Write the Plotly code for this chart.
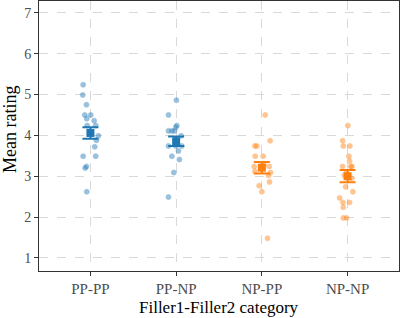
import plotly.graph_objects as go

categories = ["PP-PP", "PP-NP", "NP-PP", "NP-NP"]
colors = ["#1f77b4", "#1f77b4", "#ff7f0e", "#ff7f0e"]

pp_pp = [5.24, 4.99, 4.75, 4.50, 4.50, 4.41, 4.36, 4.24, 4.24, 3.99, 3.88, 3.72, 3.49, 3.49, 3.24, 3.20, 2.62]
pp_pp_jit = [-7.3, -7.7, -4, -5.7, 0.3, -3.7, 3.7, -3.3, 5.3, 8, 6, 4.3, -7.3, 5.3, -4, -5.3, -3.7]

pp_np = [4.86, 4.50, 4.11, 4.11, 4.11, 4.24, 4.20, 3.99, 3.74, 3.74, 3.74, 3.62, 3.49, 3.41, 3.09, 2.49]
pp_np_jit = [0.3, -7.7, -7.7, -4.3, -1.7, 0.7, -0.3, 5, -7.7, -0.3, 5.7, 2.3, -4.3, 3.3, -2.3, -7.7]

np_pp = [4.50, 3.87, 3.74, 3.74, 3.49, 3.49, 3.24, 3.24, 3.12, 3.09, 3.02, 2.86, 2.77, 2.62, 1.48, 3.20, 3.28]
np_pp_jit = [3.3, 8.3, -7, -5, -6.7, 1.3, -7.7, 7.3, -7, 8.7, 6.7, 7.7, -2.7, 0, 5.7, -1, 2]

np_np = [4.24, 3.87, 3.74, 3.74, 3.49, 3.37, 3.24, 3.24, 3.24, 3.09, 3.02, 2.95, 2.74, 2.62, 2.47, 2.36, 2.36, 2.24, 1.98, 1.98]
np_np_jit = [0.3, -5, -4.3, 2.3, 1.3, 2, -5, 3.3, 4.3, -1, -3.3, 4.3, -2, 5.3, -8, -4.7, 2, -4.3, -4.3, -1]

ratings = [pp_pp, pp_np, np_pp, np_np]
jitters = [pp_pp_jit, pp_np_jit, np_pp_jit, np_np_jit]

means = [4.06, 3.855, 3.21, 3.00]
se = [0.14, 0.115, 0.14, 0.15]

x_title = "Filler1-Filler2 category"
y_title = "Mean rating"

PX_PER_CAT = 86.0

fig = go.Figure()
for i, (vals, jit) in enumerate(zip(ratings, jitters)):
    c = colors[i]
    fig.add_trace(go.Scatter(
        x=[i + 1 + j / PX_PER_CAT for j in jit], y=vals, mode="markers",
        marker=dict(size=5, color=c, opacity=0.45, line=dict(width=0.8, color=c)),
        showlegend=False, hoverinfo="y"))

for i in range(4):
    fig.add_trace(go.Scatter(
        x=[i + 1], y=[means[i]], mode="markers",
        marker=dict(size=8, symbol="square", color=colors[i]),
        error_y=dict(type="data", array=[se[i]], visible=True, color=colors[i], thickness=2, width=8),
        showlegend=False))

font_family = "Liberation Serif, Times New Roman, serif"
W, H = 400, 318
L, R, T, B = 39, 1, 1, 47
fig.update_layout(
    width=W, height=H,
    margin=dict(l=L, r=R, t=T, b=B, autoexpand=False),
    paper_bgcolor="white", plot_bgcolor="white",
    font=dict(family=font_family, color="#4d4d4d", size=14),
    xaxis=dict(
        range=[0.4, 4.6], tickmode="array", tickvals=[1, 2, 3, 4], ticktext=categories,
        showgrid=True, gridcolor="#d9d9d9", griddash="dash", gridwidth=1,
        showline=True, mirror=True, linecolor="#333333", linewidth=1,
        ticks="outside", ticklen=4, tickcolor="#333333",
        tickfont=dict(size=15, color="#4d4d4d"),
        automargin=False, zeroline=False),
    yaxis=dict(
        range=[0.68, 7.29], tickmode="array", tickvals=[1, 2, 3, 4, 5, 6, 7],
        showgrid=True, gridcolor="#d9d9d9", griddash="dash", gridwidth=1,
        showline=True, mirror=True, linecolor="#333333", linewidth=1,
        ticks="outside", ticklen=4, tickcolor="#333333",
        tickfont=dict(size=14, color="#4d4d4d"),
        automargin=False, zeroline=False),
    annotations=[
        dict(text=x_title, xref="paper", yref="paper",
             x=(219 - L) / (W - L - R), y=-(307 - (H - B)) / (H - T - B),
             xanchor="center", yanchor="middle", showarrow=False,
             font=dict(size=17, color="black", family=font_family)),
        dict(text=y_title, xref="paper", yref="paper", textangle=-90,
             x=-(L - 10) / (W - L - R), y=(H - B - 130) / (H - T - B),
             xanchor="center", yanchor="middle", showarrow=False,
             font=dict(size=18, color="black", family=font_family)),
    ],
)

fig.write_html("out.html", config={"displayModeBar": False},
               post_script="document.body.style.margin='0';document.body.style.overflow='hidden';")
